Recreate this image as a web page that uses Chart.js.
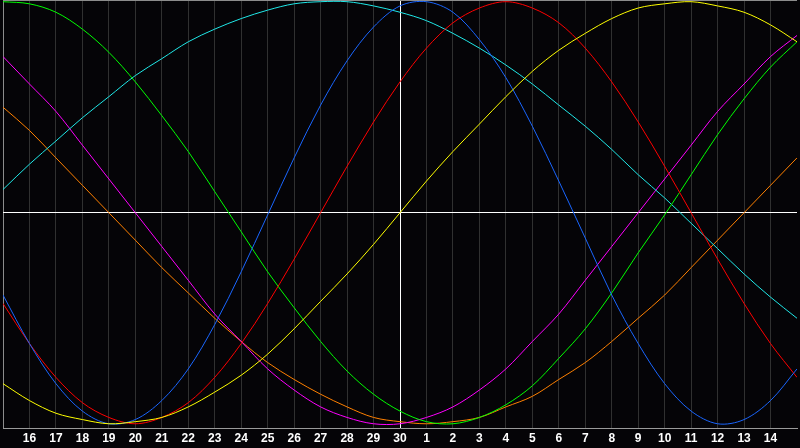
<!DOCTYPE html>
<html>
<head>
<meta charset="utf-8">
<script src="https://cdn.jsdelivr.net/npm/chart.js@4"></script>
<style>
  body { margin: 0; background: #050407; }
  canvas { display: block; }
</style>
</head>
<body>
<canvas id="bio-chart" width="800" height="448"></canvas>
<script>
// days shown: 15 .. 45 on the scale, labelled as day of month
const days = [15, 16, 17, 18, 19, 20, 21, 22, 23, 24, 25, 26, 27, 28, 29, 30,
  31, 32, 33, 34, 35, 36, 37, 38, 39, 40, 41, 42, 43, 44, 45];
const tickLabels = ["", "16", "17", "18", "19", "20", "21", "22", "23", "24", "25", "26", "27", "28", "29", "30",
  "1", "2", "3", "4", "5", "6", "7", "8", "9", "10", "11", "12", "13", "14", ""];

const physical = [-39, -62, -81, -94, -100, -98, -89, -74, -53, -28, -1, 26, 51, 72, 88, 98,
  100, 95, 82, 64, 41, 15, -12, -39, -62, -81, -94, -100, -98, -89, -74];
const emotional = [-43, -62, -78, -90, -97, -100, -97, -90, -78, -62, -43, -22, 0, 22, 43, 62,
  78, 90, 97, 100, 97, 90, 78, 62, 43, 22, 0, -22, -43, -62, -78];
const intellectual = [100, 99, 95, 87, 76, 62, 46, 29, 10, -9, -28, -45, -61, -75, -86, -94,
  -99, -100, -97, -91, -82, -69, -55, -38, -19, -1, 18, 37, 54, 69, 81];
const spiritual = [11, 23, 34, 45, 55, 65, 73, 81, 87, 92, 96, 99, 100, 100, 98, 95,
  91, 85, 78, 70, 61, 51, 41, 30, 18, 7, -5, -17, -29, -40, -50];
const aesthetic = [-81, -89, -95, -98, -100, -99, -97, -92, -85, -77, -67, -55, -42, -29, -15, 0,
  15, 29, 42, 55, 67, 77, 85, 92, 97, 99, 100, 98, 95, 89, 81];
const intuitive = [74, 61, 48, 32, 16, 0, -16, -32, -48, -61, -74, -84, -92, -97, -100, -100,
  -97, -92, -84, -74, -61, -48, -32, -16, 0, 16, 32, 48, 61, 74, 84];
const awareness = [50, 39, 26, 13, 0, -13, -26, -38, -50, -61, -71, -79, -86, -92, -97, -99,
  -100, -99, -97, -92, -87, -79, -71, -61, -50, -39, -26, -13, 0, 13, 26];

function series(values, color) {
  return {
    data: days.map((d, i) => ({ x: d, y: values[i] })),
    borderColor: color,
    borderWidth: 1,
    pointRadius: 0,
    tension: 0.33,
    fill: false,
  };
}

const ctx = document.getElementById("bio-chart").getContext("2d");

new Chart(ctx, {
  type: "line",
  data: {
    datasets: [
      series(aesthetic, "#ffff00"),
      series(physical, "#1a66ff"),
      series(emotional, "#ff0000"),
      series(intellectual, "#00ff00"),
      series(spiritual, "#20e8e8"),
      series(intuitive, "#ff00ff"),
      series(awareness, "#ff8000"),
    ],
  },
  options: {
    responsive: false,
    animation: false,
    layout: { padding: 0 },
    plugins: {
      legend: { display: false },
      tooltip: { enabled: false },
    },
    scales: {
      x: {
        type: "linear",
        min: 15,
        max: 45,
        afterBuildTicks: (scale) => {
          scale.ticks = days.map(d => ({ value: d }));
        },
        afterFit: (scale) => { scale.height = 20; },
        ticks: {
          autoSkip: false,
          maxRotation: 0,
          padding: 3,
          color: "#ffffff",
          font: { family: "Liberation Sans", size: 12, weight: "bold" },
          callback: (value, index) => tickLabels[index],
        },
        grid: {
          drawTicks: false,
          lineWidth: 1,
          color: (c) => {
            const v = c.tick ? c.tick.value : null;
            if (v === 15) return "#8c8c8c";
            if (v === 30) return "#ffffff";
            if (v === 45) return "rgba(0,0,0,0)";
            return "#303030";
          },
        },
        border: { display: true, color: "#9a9a9a", width: 1 },
      },
      y: {
        min: -102,
        max: 100.8,
        afterBuildTicks: (scale) => {
          scale.ticks = [{ value: -102 }, { value: 0 }, { value: 100.8 }];
        },
        afterFit: (scale) => { scale.width = 0; },
        ticks: { display: false },
        grid: {
          drawTicks: false,
          lineWidth: 1,
          color: (c) => {
            const v = c.tick ? c.tick.value : null;
            if (v === 0) return "#ffffff";
            if (v === 100.8) return "#8c8c8c";
            return "rgba(0,0,0,0)";
          },
        },
        border: { display: false },
      },
    },
  },
});
</script>
</body>
</html>
